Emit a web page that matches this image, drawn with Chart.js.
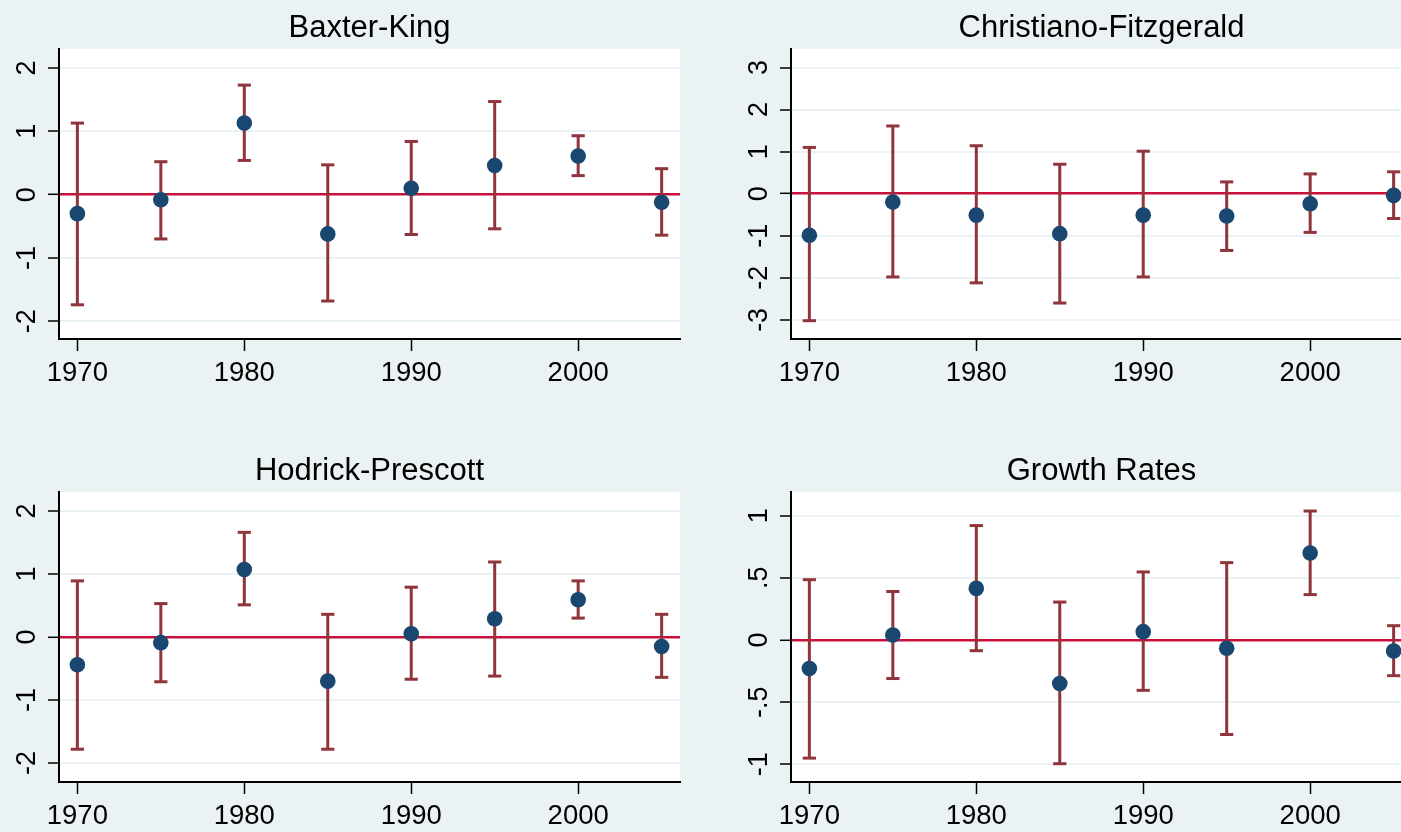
<!DOCTYPE html>
<html>
<head>
<meta charset="utf-8">
<script src="https://cdn.jsdelivr.net/npm/chart.js@4.4.1/dist/chart.umd.min.js"></script>
<style>
  html, body { margin: 0; padding: 0; background: #EAF2F3; width: 1401px; height: 832px; overflow: hidden; }
  .panel { position: absolute; }
  canvas { display: block; }
</style>
</head>
<body>
<div class="panel" id="p0"><canvas id="c0" width="700" height="389"></canvas></div>
<div class="panel" id="p1"><canvas id="c1" width="700" height="389"></canvas></div>
<div class="panel" id="p2"><canvas id="c2" width="700" height="389"></canvas></div>
<div class="panel" id="p3"><canvas id="c3" width="700" height="389"></canvas></div>
<script>
// ---------------- data ----------------
const years = [1970, 1975, 1980, 1985, 1990, 1995, 2000, 2005];
const xTicks = [1970, 1980, 1990, 2000];

const bkMean = [-0.30, -0.08, 1.13, -0.62, 0.10, 0.46, 0.61, -0.12];
const bkLow  = [-1.74, -0.70, 0.54, -1.68, -0.63, -0.54, 0.30, -0.64];
const bkHigh = [ 1.13,  0.52, 1.73,  0.47,  0.84,  1.47, 0.93,  0.41];

const cfMean = [-0.99, -0.20, -0.51, -0.95, -0.51, -0.53, -0.24, -0.04];
const cfLow  = [-3.02, -1.98, -2.12, -2.60, -1.98, -1.35, -0.92, -0.59];
const cfHigh = [ 1.10,  1.61,  1.14,  0.70,  1.01,  0.28,  0.47,  0.52];

const hpMean = [-0.44, -0.09, 1.07, -0.70, 0.05, 0.29, 0.59, -0.15];
const hpLow  = [-1.78, -0.71, 0.51, -1.78, -0.67, -0.62, 0.30, -0.64];
const hpHigh = [ 0.89,  0.53, 1.66,  0.36,  0.79,  1.19, 0.89,  0.36];

const grMean = [-0.23, 0.04, 0.415, -0.35, 0.067, -0.067, 0.70, -0.088];
const grLow  = [-0.95, -0.31, -0.086, -0.995, -0.405, -0.76, 0.365, -0.287];
const grHigh = [0.485, 0.39, 0.92, 0.305, 0.547, 0.622, 1.037, 0.115];

const yTicks2 = [-2, -1, 0, 1, 2];
const yLabels2 = ["-2", "-1", "0", "1", "2"];
const yTicks3 = [-3, -2, -1, 0, 1, 2, 3];
const yLabels3 = ["-3", "-2", "-1", "0", "1", "2", "3"];
const yTicksGr = [-1, -0.5, 0, 0.5, 1];
const yLabelsGr = ["-1", "-.5", "0", ".5", "1"];

const titles = ["Baxter-King", "Christiano-Fitzgerald", "Hodrick-Prescott", "Growth Rates"];

// ---------------- style / layout ----------------
const FONT = "'Liberation Sans', Arial, Helvetica, sans-serif";
const NAVY = "#1A476F";
const MAROON = "#90353B";
const ZERO_RED = "#C8103A";
const GRID = "#EAF2F3";

const panels = [
  { title: titles[0], mean: bkMean, low: bkLow, high: bkHigh, yMin: -2.28, yMax: 2.30, yTicks: yTicks2, yLabels: yLabels2, left: 0, top: 0 },
  { title: titles[1], mean: cfMean, low: cfLow, high: cfHigh, yMin: -3.455, yMax: 3.44, yTicks: yTicks3, yLabels: yLabels3, left: 732, top: 0 },
  { title: titles[2], mean: hpMean, low: hpLow, high: hpHigh, yMin: -2.30, yMax: 2.30, yTicks: yTicks2, yLabels: yLabels2, left: 0, top: 443 },
  { title: titles[3], mean: grMean, low: grLow, high: grHigh, yMin: -1.142, yMax: 1.19, yTicks: yTicksGr, yLabels: yLabelsGr, left: 732, top: 443 }
];

const stataPlugin = {
  id: 'stata',
  beforeDraw(chart) {
    const ca = chart.chartArea, ctx = chart.ctx;
    ctx.save();
    ctx.fillStyle = '#FFFFFF';
    ctx.fillRect(ca.left, ca.top, ca.right - ca.left, ca.bottom - ca.top);
    ctx.restore();
  },
  afterDraw(chart, args, opts) {
    const ca = chart.chartArea, ctx = chart.ctx;
    ctx.save();
    ctx.fillStyle = '#000';
    ctx.font = '31px ' + FONT;
    ctx.textAlign = 'center';
    ctx.textBaseline = 'alphabetic';
    ctx.fillText(opts.title, (ca.left + ca.right) / 2, 37);
    const ys = chart.scales.y;
    ctx.font = '27px ' + FONT;
    ys.ticks.forEach((t, i) => {
      const py = ys.getPixelForValue(t.value);
      ctx.save();
      ctx.translate(35, py);
      ctx.rotate(-Math.PI / 2);
      ctx.textAlign = 'center';
      ctx.textBaseline = 'alphabetic';
      ctx.fillText(opts.labels[i], 0, 0);
      ctx.restore();
    });
    ctx.restore();
  }
};

panels.forEach((p, k) => {
  const div = document.getElementById('p' + k);
  div.style.left = p.left + 'px';
  div.style.top = p.top + 'px';

  const barData = [];
  const capData = [];
  years.forEach((x, i) => {
    barData.push({ x: x, y: p.low[i] }, { x: x, y: p.high[i] }, { x: x, y: null });
    capData.push({ x: x, y: p.low[i] }, { x: x, y: p.high[i] });
  });
  const pointData = years.map((x, i) => ({ x: x, y: p.mean[i] }));

  new Chart(document.getElementById('c' + k), {
    type: 'scatter',
    data: {
      datasets: [
        { label: 'mean', data: pointData, order: 0, pointRadius: 7.8, pointStyle: 'circle',
          backgroundColor: NAVY, borderColor: NAVY, borderWidth: 0, showLine: false },
        { label: 'ci', type: 'line', data: barData, order: 2, borderColor: MAROON, borderWidth: 3,
          pointRadius: 0, spanGaps: false, fill: false, tension: 0 },
        { label: 'caps', data: capData, order: 1, pointStyle: 'line', pointRadius: 6.6,
          borderColor: MAROON, backgroundColor: MAROON, pointBorderWidth: 3, borderWidth: 3, showLine: false }
      ]
    },
    options: {
      responsive: false,
      animation: false,
      events: [],
      layout: { padding: { top: 49, left: 0, right: 20, bottom: 0 } },
      plugins: {
        legend: { display: false },
        tooltip: { enabled: false },
        title: { display: false },
        stata: { title: p.title, labels: p.yLabels }
      },
      scales: {
        x: {
          type: 'linear',
          min: 1968.9,
          max: 2006.1,
          afterBuildTicks: s => { s.ticks = xTicks.map(v => ({ value: v })); },
          afterFit: s => { s.height = 50; },
          grid: { drawOnChartArea: false, drawTicks: true, tickLength: 12, tickColor: '#000', tickWidth: 1.5 },
          border: { display: true, color: '#000', width: 2 },
          ticks: {
            font: { size: 27.5, family: FONT },
            color: '#000',
            padding: 6,
            maxRotation: 0,
            autoSkip: false,
            callback: v => String(v)
          }
        },
        y: {
          type: 'linear',
          min: p.yMin,
          max: p.yMax,
          afterBuildTicks: s => { s.ticks = p.yTicks.map(v => ({ value: v })); },
          afterFit: s => { s.width = 59; },
          grid: {
            color: c => (c.tick && c.tick.value === 0) ? ZERO_RED : GRID,
            lineWidth: c => (c.tick && c.tick.value === 0) ? 2.6 : 2,
            drawTicks: true, tickLength: 11, tickColor: '#000', tickWidth: 1.5
          },
          border: { display: true, color: '#000', width: 2 },
          ticks: { display: false }
        }
      }
    },
    plugins: [stataPlugin]
  });
});
</script>
</body>
</html>
